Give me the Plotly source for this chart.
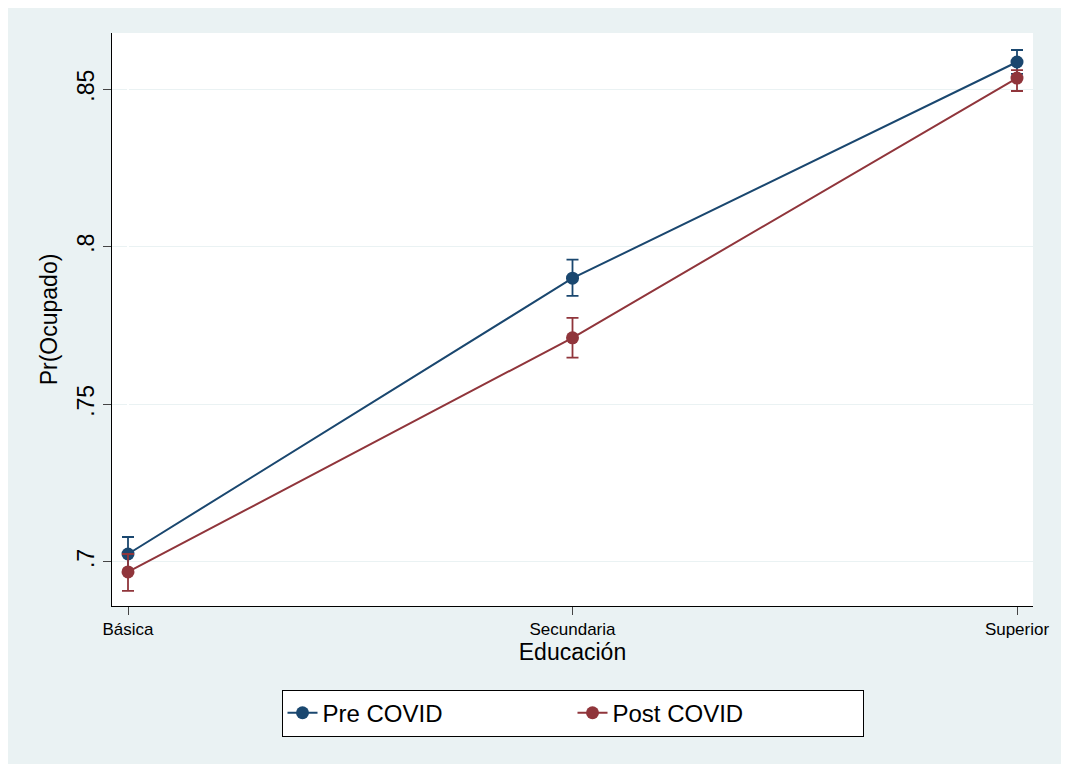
import plotly.graph_objects as go

categorias = ["Básica", "Secundaria", "Superior"]
pre = [0.7025, 0.7900, 0.8586]
pre_lo = [0.6970, 0.7844, 0.8548]
pre_hi = [0.7079, 0.7959, 0.8624]
post = [0.6968, 0.7711, 0.8535]
post_lo = [0.6908, 0.7648, 0.8494]
post_hi = [0.7025, 0.7774, 0.8560]

x = list(range(len(categorias)))
fig = go.Figure()

for nombre, y, lo, hi, color in [("Pre COVID", pre, pre_lo, pre_hi, "#1a476f"),
                                 ("Post COVID", post, post_lo, post_hi, "#90353b")]:
    fig.add_trace(go.Scatter(
        x=x, y=y, name=nombre, mode="lines+markers",
        line=dict(color=color, width=2),
        marker=dict(color=color, size=13),
        error_y=dict(type="data", symmetric=False,
                     array=[h - v for h, v in zip(hi, y)],
                     arrayminus=[v - l for v, l in zip(y, lo)],
                     color=color, thickness=1.8, width=6)))

fig.update_layout(
    width=1053, height=756,
    paper_bgcolor="#eaf2f3", plot_bgcolor="white",
    margin=dict(l=104, r=26, t=25, b=158),
    font=dict(family="Liberation Sans, Arial", color="black"),
    legend=dict(orientation="h", x=0.5, xanchor="center", y=-0.187, yanchor="middle",
                bordercolor="black", borderwidth=1, bgcolor="white",
                font=dict(size=24), entrywidthmode="pixels", entrywidth=245),
    showlegend=True,
)
fig.update_xaxes(range=[-0.036, 2.036], tickvals=x, ticktext=categorias,
                 ticks="outside", ticklen=8, showgrid=False, showline=True,
                 linecolor="black", tickfont=dict(size=17),
                 title=dict(text="Educación", font=dict(size=23), standoff=5))
fig.update_yaxes(range=[0.686, 0.8678], tickvals=[0.7, 0.75, 0.8, 0.85],
                 ticktext=[".7", ".75", ".8", ".85"], tickangle=-90,
                 ticks="outside", ticklen=8, showgrid=True, gridcolor="#eaf2f3",
                 showline=True, linecolor="black", tickfont=dict(size=23),
                 zeroline=False,
                 title=dict(text="Pr(Ocupado)", font=dict(size=23), standoff=8))

fig.write_html("out.html")
